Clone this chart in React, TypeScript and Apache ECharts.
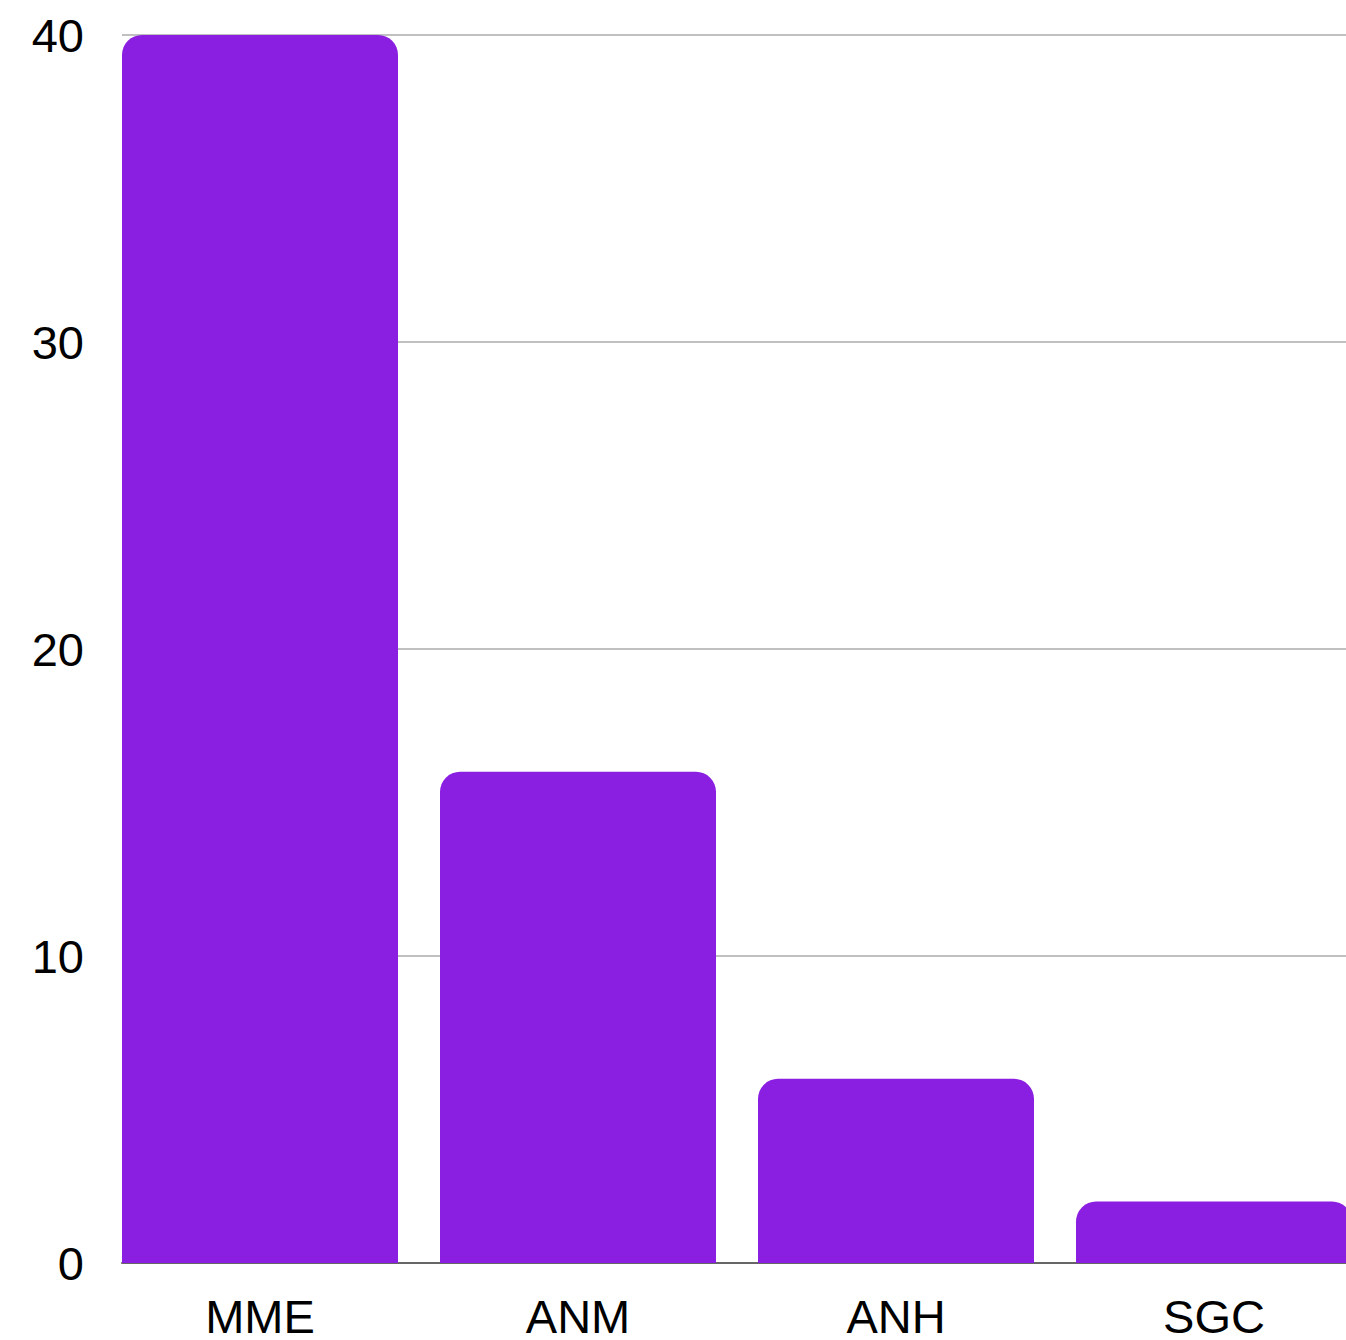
import React, { useEffect, useRef } from "react";
import * as echarts from "echarts";

const categories = ["MME", "ANM", "ANH", "SGC"];
const values = [40, 16, 6, 2];
const yTicks = { min: 0, max: 40, interval: 10 };

export default function App() {
  const ref = useRef<HTMLDivElement>(null);
  useEffect(() => {
    if (!ref.current) return;
    const chart = echarts.init(ref.current, undefined, { renderer: "svg" });
    chart.setOption({
      animation: false,
      backgroundColor: "#ffffff",
      grid: { left: 122, top: 35, width: 1272, height: 1231, containLabel: false },
      xAxis: {
        type: "category",
        data: categories,
        axisLine: { show: true, lineStyle: { color: "#666666", width: 2 } },
        axisTick: { show: false },
        splitLine: { show: false },
        axisLabel: {
          fontFamily: "Liberation Sans, Arial, sans-serif",
          fontSize: 47,
          color: "#000000",
          margin: 30,
          padding: [0, 42, 0, 0],
        },
      },
      yAxis: {
        type: "value",
        min: yTicks.min,
        max: yTicks.max,
        interval: yTicks.interval,
        axisLine: { show: false },
        axisTick: { show: false },
        splitLine: { show: true, lineStyle: { color: "#c0c0c0", width: 2 } },
        axisLabel: {
          fontFamily: "Liberation Sans, Arial, sans-serif",
          fontSize: 47,
          color: "#000000",
          margin: 38,
        },
      },
      series: [
        {
          type: "bar",
          data: values,
          barWidth: 276,
          barGap: 0,
          itemStyle: { color: "#8b1fe1", borderRadius: [20, 20, 0, 0] },
        },
        {
          type: "bar",
          data: categories.map(() => null),
          barWidth: 42,
          barGap: 0,
          silent: true,
          itemStyle: { color: "transparent" },
        },
      ],
    });
    return () => chart.dispose();
  }, []);
  return (
    <div style={{ position: "fixed", left: 0, top: 0, width: 1346, height: 1340, overflow: "hidden" }}>
      <div ref={ref} style={{ width: 1400, height: 1340 }} />
    </div>
  );
}
